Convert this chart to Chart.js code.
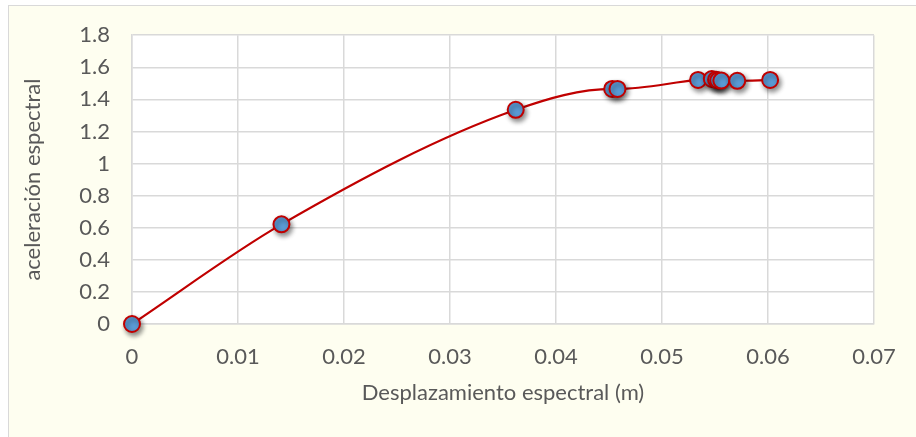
<!DOCTYPE html>
<html>
<head>
<meta charset="utf-8">
<script src="https://cdn.jsdelivr.net/npm/chart.js@4/dist/chart.umd.min.js"></script>
<style>
  html, body { margin: 0; padding: 0; background: #ffffff; }
  #frame {
    position: absolute; left: 8px; top: 5px; width: 920px; height: 445px;
    background: #fefef0; border: 1.5px solid #d9d9d9; box-sizing: border-box;
  }
  #wrap { position: absolute; left: 0; top: 0; width: 916px; height: 437px; }
</style>
</head>
<body>
<div id="frame"></div>
<div id="wrap"><canvas id="chart" width="916" height="437"></canvas></div>
<script>
// Capacity curve: spectral displacement (m) vs spectral acceleration
const dispX  = [0, 0.0141, 0.0362, 0.0453, 0.0458, 0.0534, 0.0547, 0.0551, 0.0553, 0.0556, 0.0571, 0.0602];
const accelY = [0, 0.621, 1.335, 1.465, 1.465, 1.521, 1.527, 1.523, 1.518, 1.517, 1.516, 1.521];

const xTickValues = [0, 0.01, 0.02, 0.03, 0.04, 0.05, 0.06, 0.07];
const xTickLabels = ['0', '0.01', '0.02', '0.03', '0.04', '0.05', '0.06', '0.07'];
const yTickValues = [0, 0.2, 0.4, 0.6, 0.8, 1, 1.2, 1.4, 1.6, 1.8];
const yTickLabels = ['0', '0.2', '0.4', '0.6', '0.8', '1', '1.2', '1.4', '1.6', '1.8'];

const xTitle = 'Desplazamiento espectral (m)';
const yTitle = 'aceleración espectral';

const points = dispX.map((x, i) => ({ x: x, y: accelY[i] }));

const textColor = '#595959';
const gridColor = '#d9d9d9';
const font = { family: 'Lato', size: 22 };

// white plot area
const plotBg = {
  id: 'plotBg',
  beforeDraw(chart) {
    const a = chart.chartArea, ctx = chart.ctx;
    ctx.save();
    ctx.fillStyle = '#ffffff';
    ctx.fillRect(a.left, a.top, a.right - a.left, a.bottom - a.top);
    ctx.restore();
  }
};

// soft drop shadow under the markers
const markerShadow = {
  id: 'markerShadow',
  beforeDatasetDraw(chart, args) {
    if (args.index !== 1) return;
    const ctx = chart.ctx;
    ctx.save();
    ctx.shadowColor = 'rgba(0,0,0,0.45)';
    ctx.shadowBlur = 5;
    ctx.shadowOffsetX = 2;
    ctx.shadowOffsetY = 3;
  },
  afterDatasetDraw(chart, args) {
    if (args.index !== 1) return;
    chart.ctx.restore();
  }
};

new Chart(document.getElementById('chart'), {
  type: 'scatter',
  data: {
    datasets: [
      {
        data: points,
        showLine: true,
        borderColor: '#c00000',
        borderWidth: 2.2,
        cubicInterpolationMode: 'monotone',
        pointRadius: 0,
        order: 2
      },
      {
        data: points,
        showLine: false,
        clip: false,
        pointRadius: 8,
        pointBorderWidth: 2,
        pointBackgroundColor: '#5b9bd5',
        pointBorderColor: '#c00000',
        order: 1
      }
    ]
  },
  options: {
    responsive: false,
    animation: false,
    events: [],
    layout: { padding: { left: 16, right: 42, top: 34, bottom: 27 } },
    plugins: { legend: { display: false }, tooltip: { enabled: false } },
    scales: {
      x: {
        type: 'linear',
        min: 0, max: 0.07,
        afterBuildTicks(scale) { scale.ticks = xTickValues.map(v => ({ value: v })); },
        afterFit(scale) { scale.height = 86; },
        grid: { color: gridColor, lineWidth: 1.5, drawTicks: false },
        border: { color: gridColor, width: 1.5 },
        ticks: {
          color: textColor, font: font, padding: 20, maxRotation: 0,
          callback: (v, i) => xTickLabels[i]
        },
        title: { display: true, text: xTitle, color: textColor, font: font }
      },
      y: {
        type: 'linear',
        min: 0, max: 1.8,
        afterBuildTicks(scale) { scale.ticks = yTickValues.map(v => ({ value: v })); },
        afterFit(scale) { scale.width = 116; },
        grid: { color: gridColor, lineWidth: 1.5, drawTicks: false },
        border: { color: gridColor, width: 1.5 },
        ticks: {
          color: textColor, font: font, padding: 22,
          callback: (v, i) => yTickLabels[i]
        },
        title: { display: true, text: yTitle, color: textColor, font: font }
      }
    }
  },
  plugins: [plotBg, markerShadow]
});
</script>
</body>
</html>
